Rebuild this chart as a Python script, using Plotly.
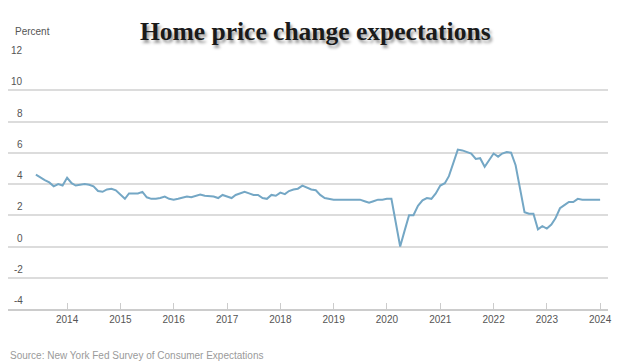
import plotly.graph_objects as go
import pandas as pd

start_month = "2013-06-01"
values = [
    4.6, 4.4, 4.25, 4.1, 3.85, 4.0, 3.9,
    4.4, 4.05, 3.9, 3.95, 4.0, 3.95, 3.85, 3.55, 3.5, 3.65, 3.7, 3.6,
    3.35, 3.05, 3.4, 3.4, 3.4, 3.5, 3.15, 3.05, 3.05, 3.1, 3.2, 3.05,
    3.0, 3.05, 3.1, 3.2, 3.15, 3.25, 3.33, 3.25, 3.2, 3.2, 3.1, 3.3,
    3.2, 3.1, 3.3, 3.4, 3.5, 3.4, 3.3, 3.3, 3.1, 3.05, 3.3, 3.25,
    3.45, 3.35, 3.55, 3.65, 3.7, 3.9, 3.8, 3.65, 3.6, 3.3, 3.1, 3.05,
    3.0, 3.0, 3.0, 3.0, 3.0, 3.0, 3.0, 2.9, 2.8, 2.9, 3.0, 3.0,
    3.05, 3.05, 1.5, 0.0, 1.0, 2.0, 2.0, 2.6, 2.95, 3.1, 3.05, 3.4,
    3.9, 4.05, 4.5, 5.3, 6.2, 6.15, 6.05, 5.95, 5.6, 5.65, 5.1, 5.5,
    5.95, 5.75, 5.95, 6.05, 6.0, 5.2, 3.6, 2.2, 2.1, 2.1, 1.1, 1.3,
    1.15, 1.4, 1.8, 2.45, 2.65, 2.85, 2.85, 3.05, 3.0, 3.0, 3.0, 3.0,
    3.0,
]
dates = pd.date_range(start_month, periods=len(values), freq="MS")

x_years = [str(y) for y in range(2014, 2025)]
x_tickvals = [f"{y}-01-01" for y in x_years]
y_ticks = [-4, -2, 0, 2, 4, 6, 8, 10, 12]

title_text = "Home price change expectations"
y_unit = "Percent"
source_text = "Source: New York Fed Survey of Consumer Expectations"

fig = go.Figure()
fig.add_trace(go.Scatter(
    x=dates, y=values, mode="lines",
    line=dict(color="#74a7c5", width=2),
    hoverinfo="skip", showlegend=False,
))

label_font = dict(family="Liberation Sans, Arial, sans-serif", size=10, color="#555555")

annotations = []
for v in y_ticks:
    annotations.append(dict(
        x=0.029, xref="paper", y=v, yref="y", text=str(v),
        xanchor="right", yanchor="bottom", yshift=1, showarrow=False,
        font=label_font,
    ))
annotations.append(dict(
    x=0.008, xref="paper", y=1.109, yref="paper", text=y_unit,
    xanchor="left", yanchor="middle", showarrow=False, font=label_font,
))
annotations.append(dict(
    x=0.512, xref="paper", y=1.108, yref="paper", text="<b>" + title_text + "</b>",
    xanchor="center", yanchor="middle", showarrow=False,
    font=dict(family="Liberation Serif, Times New Roman, serif", size=25.5,
              color="#1a1a1a", shadow="2px 3px 3px #9a9a9a"),
))
annotations.append(dict(
    x=0.0, xref="paper", y=-0.184, yref="paper", text=source_text,
    xanchor="left", yanchor="middle", showarrow=False,
    font=dict(family="Liberation Sans, Arial, sans-serif", size=10, color="#9a9a9a"),
))

# The page body adds an 8px offset, so the figure is sized and margined to
# place the plot area where the reference has it.
fig.update_layout(
    width=612, height=354,
    margin=dict(l=0, r=12, t=51, b=53),
    paper_bgcolor="white", plot_bgcolor="white",
    annotations=annotations,
    xaxis=dict(
        range=["2012-11-22", "2024-02-24"],
        tickvals=x_tickvals, ticktext=x_years,
        showgrid=False, zeroline=False,
        showline=True, linecolor="#cccccc", linewidth=1.5,
        ticks="inside", ticklen=6, tickcolor="#cccccc", tickwidth=1,
        tickfont=label_font,
    ),
    yaxis=dict(
        range=[-4, 12], tickvals=y_ticks, showticklabels=False,
        showgrid=True, gridcolor="#dcdcdc", gridwidth=1.5,
        zeroline=False, showline=False,
    ),
)

fig.write_html("out.html")
